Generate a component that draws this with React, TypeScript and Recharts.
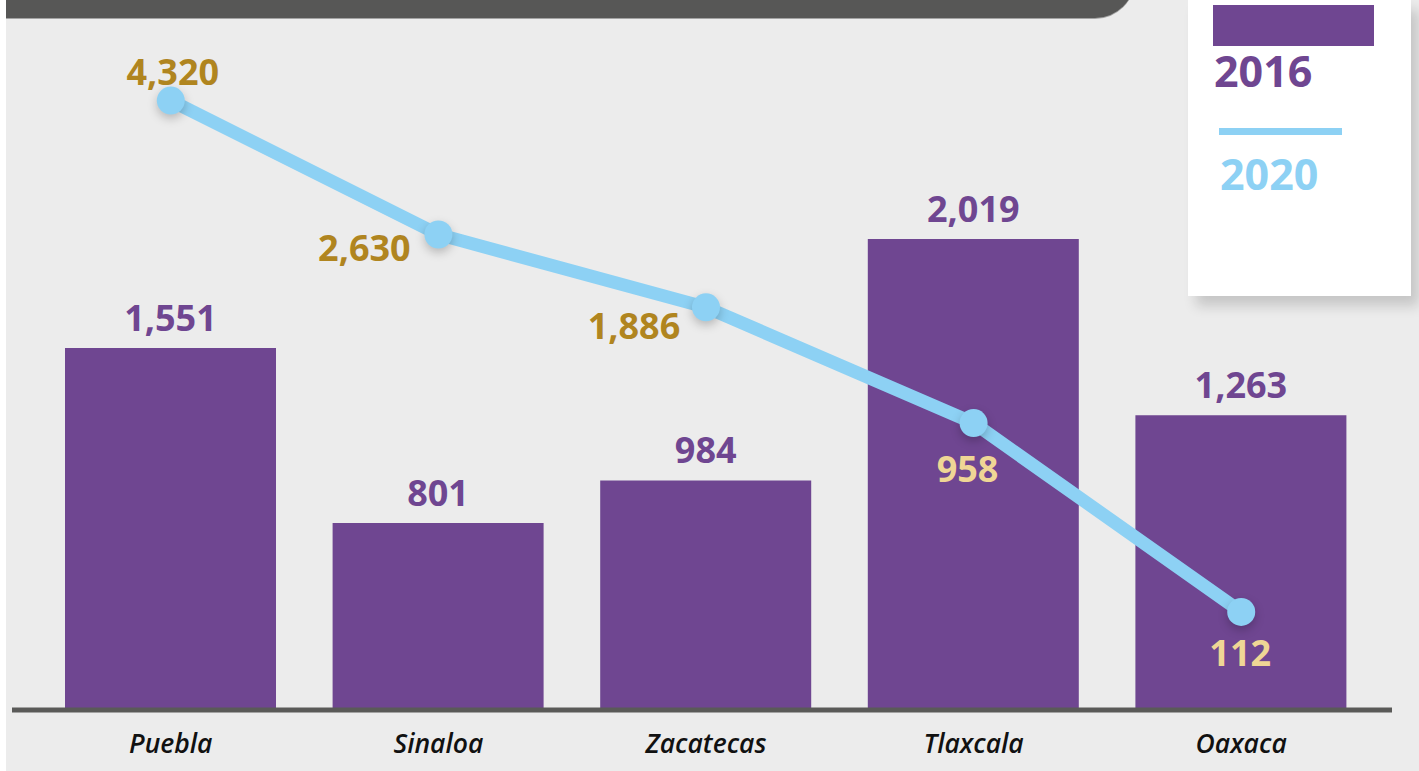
import { ComposedChart, Bar, Line, XAxis, YAxis, LabelList, Legend } from 'recharts'

const states = ['Puebla', 'Sinaloa', 'Zacatecas', 'Tlaxcala', 'Oaxaca']
const values2016 = [1551, 801, 984, 2019, 1263]
const values2020 = [4320, 2630, 1886, 958, 112]
const seriesNames = ['2016', '2020']

const PURPLE = '#6f4691'
const BLUE = '#8dd1f4'
const GOLD = '#b0851f'
const CREAM = '#efd695'
const FONT = '"Open Sans", "Noto Sans", sans-serif'

// where each 2020 label sits relative to its point
const lineLabelDx = [2, -74, -72, -6, -1]
const lineLabelDy = [-16, 26, 32, 59, 54]
const lineLabelFill = [GOLD, GOLD, GOLD, CREAM, CREAM]

const data = states.map((state, i) => ({
  state,
  y2016: values2016[i],
  y2020: values2020[i],
}))

const fmt = (v: number) => Number(v).toLocaleString('en-US')

function StateTick(props: any) {
  const { x, y, payload } = props
  return (
    <text
      x={x}
      y={y + 43}
      textAnchor="middle"
      fontFamily={FONT}
      fontStyle="italic"
      fontWeight={600}
      fontSize={26.5}
      fill="#111"
    >
      {payload.value}
    </text>
  )
}

function BarValue(props: any) {
  const { x, y, width, value } = props
  return (
    <text
      x={x + width / 2}
      y={y - 17}
      textAnchor="middle"
      fontFamily={FONT}
      fontWeight={700}
      fontSize={36}
      fill={PURPLE}
    >
      {fmt(value)}
    </text>
  )
}

function LineValue(props: any) {
  const { x, y, value, index } = props
  return (
    <text
      x={x + lineLabelDx[index]}
      y={y + lineLabelDy[index]}
      textAnchor="middle"
      fontFamily={FONT}
      fontWeight={700}
      fontSize={36}
      fill={lineLabelFill[index]}
    >
      {fmt(value)}
    </text>
  )
}

function LineDot(props: any) {
  const { cx, cy, index } = props
  return (
    <circle
      key={index}
      cx={cx}
      cy={cy}
      r={14}
      fill={BLUE}
      style={{ filter: 'drop-shadow(0px 4px 5px rgba(0,0,0,0.22))' }}
    />
  )
}

function LegendBox() {
  const text = { position: 'absolute' as const, fontFamily: FONT, fontWeight: 700, fontSize: 43, lineHeight: '43px' }
  return (
    <div
      style={{
        position: 'relative',
        width: 223,
        height: 296,
        background: '#fff',
        boxShadow: '8px 10px 12px rgba(0,0,0,0.16)',
      }}
    >
      <div style={{ position: 'absolute', left: 25, top: 5, width: 161, height: 41, background: PURPLE }} />
      <div style={{ ...text, left: 26, top: 49, color: PURPLE }}>{seriesNames[0]}</div>
      <div style={{ position: 'absolute', left: 31, top: 128, width: 123, height: 7, background: BLUE }} />
      <div style={{ ...text, left: 32, top: 152, color: BLUE }}>{seriesNames[1]}</div>
    </div>
  )
}

export default function App() {
  return (
    <div style={{ position: 'absolute', left: 0, top: 0, width: 1419, height: 771, background: '#fff', overflow: 'hidden' }}>
      <div style={{ position: 'absolute', left: 6, top: 0, width: 1413, height: 771, background: '#ececec' }} />
      <div
        style={{
          position: 'absolute',
          left: 6,
          top: -22,
          width: 1129,
          height: 40,
          background: '#575756',
          borderBottomRightRadius: 40,
          boxShadow: '0 1px 0 #a3a3a3',
        }}
      />
      <div style={{ position: 'absolute', left: 0, top: 0 }}>
        <ComposedChart width={1419} height={771} data={data} margin={{ top: 10, right: 27, left: 12, bottom: 11 }}>
          <XAxis
            dataKey="state"
            height={50}
            padding={{ left: 25, right: 17 }}
            axisLine={{ stroke: '#5a5a58', strokeWidth: 5 }}
            tickLine={false}
            tickSize={0}
            tickMargin={0}
            tick={<StateTick />}
            interval={0}
          />
          <YAxis yAxisId="bar" hide domain={[0, 3000]} />
          <YAxis yAxisId="line" hide scale="sqrt" domain={[0, 5700]} />
          <Legend
            layout="horizontal"
            verticalAlign="middle"
            align="center"
            wrapperStyle={{ left: 1188, top: 0, width: 223, height: 296 }}
            content={() => <LegendBox />}
          />
          <Bar yAxisId="bar" dataKey="y2016" name={seriesNames[0]} fill={PURPLE} barSize={211} isAnimationActive={false}>
            <LabelList dataKey="y2016" content={<BarValue />} />
          </Bar>
          <Line
            yAxisId="line"
            dataKey="y2020"
            name={seriesNames[1]}
            stroke={BLUE}
            strokeWidth={13}
            strokeLinecap="round"
            dot={<LineDot />}
            activeDot={false}
            isAnimationActive={false}
          >
            <LabelList dataKey="y2020" content={<LineValue />} />
          </Line>
        </ComposedChart>
      </div>
    </div>
  )
}
